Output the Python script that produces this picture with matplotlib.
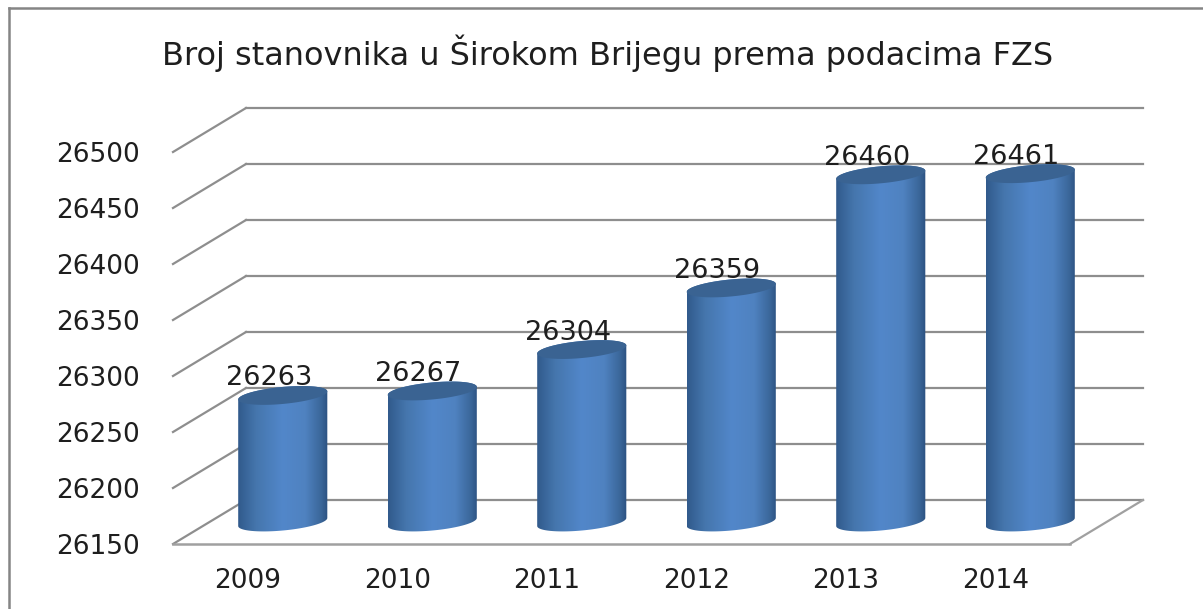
import matplotlib
matplotlib.use('Agg')
import matplotlib.pyplot as plt
import numpy as np
from matplotlib.colors import LinearSegmentedColormap
from matplotlib.lines import Line2D
from matplotlib.patches import PathPatch
from matplotlib.path import Path
from matplotlib.transforms import Affine2D, IdentityTransform

years = ['2009', '2010', '2011', '2012', '2013', '2014']
population = [26263, 26267, 26304, 26359, 26460, 26461]
y_ticks = [26150, 26200, 26250, 26300, 26350, 26400, 26450, 26500]
title = 'Broj stanovnika u Širokom Brijegu prema podacima FZS'

W, H = 1203, 609
GRID = '#8e8e8e'
TEXT = '#1e1e1e'
# how far the back wall sits from the front plane, in pixels
DEPTH_X, DEPTH_Y = 73, 44

plt.rcParams['font.family'] = ['DejaVu Sans']

fig = plt.figure(figsize=(W / 100, H / 100), dpi=100, facecolor='white')
ax = fig.add_axes([173 / W, (H - 544) / H, (1070 - 173) / W, (544 - 152) / H])
ax.set_xlim(0, len(years))
ax.set_ylim(y_ticks[0], y_ticks[-1])
ax.patch.set_visible(False)
for s in ax.spines.values():
    s.set_visible(False)

xpos = np.arange(len(years)) + 0.5
ax.set_xticks(xpos, years)
ax.set_yticks(y_ticks, [str(v) for v in y_ticks])
ax.tick_params(axis='x', length=0, pad=17, labelsize=19, labelcolor=TEXT)
ax.tick_params(axis='y', length=0, pad=24, labelsize=19, labelcolor=TEXT)

back = ax.transData + Affine2D().translate(DEPTH_X, DEPTH_Y)
mid = ax.transData + Affine2D().translate(DEPTH_X / 2 - 1.5, DEPTH_Y / 2)

# back wall gridlines and the diagonals of the side wall
for v in y_ticks:
    ax.plot([0, len(years)], [v, v], color=GRID, lw=1.6, transform=back, zorder=1, clip_on=False)
    x0, y0 = ax.transData.transform((0, v))
    ax.add_line(Line2D([x0, x0 + DEPTH_X], [y0, y0 + DEPTH_Y], color=GRID, lw=1.6,
                       transform=IdentityTransform(), zorder=1, clip_on=False))

# floor front edge and right edge
ax.plot([0, len(years)], [y_ticks[0], y_ticks[0]], color='#a0a0a0', lw=1.8, zorder=1, clip_on=False)
x1, y1 = ax.transData.transform((len(years), y_ticks[0]))
ax.add_line(Line2D([x1, x1 + DEPTH_X], [y1, y1 + DEPTH_Y], color='#a0a0a0', lw=1.6,
                   transform=IdentityTransform(), zorder=1, clip_on=False))

cyl_cmap = LinearSegmentedColormap.from_list('cyl', [
    (0.0, '#315a8c'), (0.2, '#4576ad'), (0.5, '#5287ca'),
    (0.75, '#4f82c0'), (0.93, '#3a6699'), (1.0, '#2c5282')])
grad = np.linspace(0, 1, 200).reshape(1, -1)

half_w = 0.298   # bar half width in category units
cap_b = 7.6      # ellipse half height in value units
cap_s = 3.6      # ellipse tilt in value units
t = np.linspace(0, 2 * np.pi, 121)

for x, val in zip(xpos, population):
    base = y_ticks[0]
    # front half of the base ellipse, then up and along the back of the top
    t_low = np.linspace(np.pi, 2 * np.pi, 60)
    xs_low = x + half_w * np.cos(t_low)
    ys_low = base + cap_b * np.sin(t_low) + cap_s * np.cos(t_low)
    t_up = np.linspace(0, np.pi, 60)
    xs_up = x + half_w * np.cos(t_up)
    ys_up = val + cap_b * np.sin(t_up) + cap_s * np.cos(t_up)
    verts = np.column_stack([np.r_[xs_low, xs_up], np.r_[ys_low, ys_up]])
    body = PathPatch(Path(np.vstack([verts, verts[0]])), fc='none', ec='none',
                     transform=mid, zorder=3, clip_on=False)
    ax.add_patch(body)
    im = ax.imshow(grad, cmap=cyl_cmap, aspect='auto', transform=mid, zorder=3,
                   extent=[x - half_w, x + half_w, base - 20, val + 20])
    # the last bar pokes out past the right edge of the axes
    im.set_clip_box(fig.bbox)
    im.set_clip_path(body)

    cap = np.column_stack([x + half_w * np.cos(t),
                           val + cap_b * np.sin(t) + cap_s * np.cos(t)])
    ax.add_patch(PathPatch(Path(cap), fc='#3a6392', ec='none', transform=mid, zorder=4, clip_on=False))

    ax.annotate(str(val), xy=(x, val), xycoords=mid, xytext=(-14 * 0.72, 17 * 0.72),
                textcoords='offset points', ha='center', va='center',
                fontsize=19.5, color=TEXT, zorder=5, annotation_clip=False)

ax.set_xlim(0, len(years))
ax.set_ylim(y_ticks[0], y_ticks[-1])

fig.text(608 / W, 1 - 53 / H, title, ha='center', va='center', fontsize=23, color=TEXT)

# outer chart frame, only left and top show in the crop
fig.add_artist(Line2D([9 / W, 9 / W], [0, 1 - 8 / H], color='#858585', lw=1.8))
fig.add_artist(Line2D([9 / W, 1], [1 - 8 / H, 1 - 8 / H], color='#858585', lw=1.8))

fig.savefig('out.png', dpi=100)
